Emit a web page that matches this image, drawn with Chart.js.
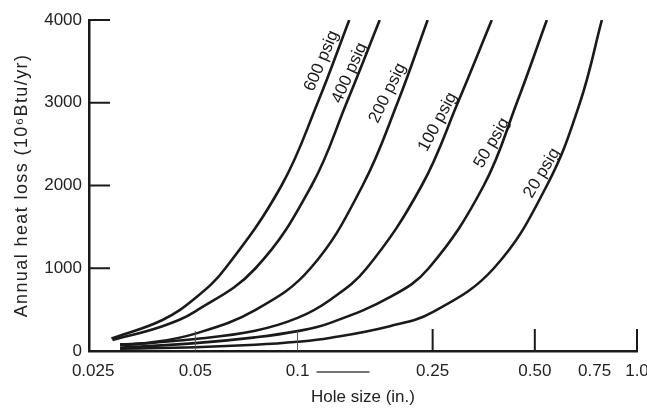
<!DOCTYPE html>
<html>
<head>
<meta charset="utf-8">
<script src="https://cdn.jsdelivr.net/npm/chart.js@4.4.1/dist/chart.umd.min.js"></script>
<style>
  html, body { margin: 0; padding: 0; background: #fff; }
  #wrap { width: 647px; height: 412px; }
</style>
</head>
<body>
<div id="wrap"><canvas id="heatChart" width="647" height="412"></canvas></div>
<script>
// curve names, top-left to bottom-right
const pressures = ['600 psig', '400 psig', '200 psig', '100 psig', '50 psig', '20 psig'];

// hole size (in.) / annual heat loss (10^6 Btu/yr)
const hole600 = [0.0283, 0.040, 0.050, 0.0613, 0.0897, 0.1146, 0.142];
const loss600 = [150, 375, 640, 1000, 2000, 3000, 4000];
const hole400 = [0.0285, 0.040, 0.050, 0.0752, 0.110, 0.1395, 0.1746];
const loss400 = [133, 300, 480, 1000, 2000, 3000, 4000];
const hole200 = [0.030, 0.0366, 0.050, 0.075, 0.1092, 0.1555, 0.197, 0.2417];
const loss200 = [80, 100, 210, 495, 1000, 2000, 3000, 4000];
const hole100 = [0.030, 0.050, 0.075, 0.100, 0.1243, 0.1598, 0.2322, 0.2965, 0.3734];
const loss100 = [70, 145, 245, 400, 614, 1000, 2000, 3000, 4000];
const hole50 = [0.030, 0.050, 0.075, 0.100, 0.1243, 0.187, 0.2434, 0.3537, 0.4426, 0.5425];
const loss50 = [40, 95, 165, 240, 337, 650, 1000, 2000, 3000, 4000];
const hole20 = [0.030, 0.050, 0.075, 0.100, 0.1243, 0.187, 0.250, 0.3787, 0.5425, 0.679, 0.788];
const loss20 = [28, 46, 75, 111, 157, 300, 470, 1000, 2000, 3000, 4000];

const holes = [hole600, hole400, hole200, hole100, hole50, hole20];
const losses = [loss600, loss400, loss200, loss100, loss50, loss20];

// axis ticks
const xTickValues = [0.025, 0.05, 0.1, 0.25, 0.5, 0.75, 1.0];
const xTickLabels = ['0.025', '0.05', '0.1', '0.25', '0.50', '0.75', '1.0'];
const xMajorMarks = [0.25, 0.5, 1.0];
const xMinorMarks = [0.05, 0.1];
const yTickValues = [0, 1000, 2000, 3000, 4000];
const yTitle = 'Annual heat loss (10⁶Btu/yr)';

// where the curve names sit (data units) and their tilt in degrees
const labelHole = [0.1177, 0.1423, 0.1843, 0.2588, 0.3734, 0.5245];
const labelLoss = [3505, 3360, 3118, 2767, 2514, 2151];
const labelAngle = [-67, -66, -64, -62, -60, -59];

const ink = '#1a1a1a';
const textInk = '#222';
const FONT = '"Liberation Sans", Arial, sans-serif';

const datasets = pressures.map((name, i) => ({
    label: name,
    data: holes[i].map((h, j) => ({ x: h, y: losses[i][j] })),
    borderColor: ink,
    borderWidth: 2.6,
    pointRadius: 0,
    fill: false,
    tension: 0.4
}));

// tick marks drawn inside the frame, curve names and the y title
const innerMarks = {
    id: 'innerMarks',
    afterDraw(chart) {
        const { ctx, scales: { x, y } } = chart;
        ctx.save();
        ctx.strokeStyle = ink;
        ctx.lineWidth = 2;
        yTickValues.forEach(v => {
            if (v === 0) return;
            const py = y.getPixelForValue(v);
            ctx.beginPath();
            ctx.moveTo(x.left, py);
            ctx.lineTo(x.left + 21, py);
            ctx.stroke();
        });
        xMajorMarks.forEach(v => {
            const px = x.getPixelForValue(v);
            ctx.beginPath();
            ctx.moveTo(px, y.bottom);
            ctx.lineTo(px, y.bottom - 22);
            ctx.stroke();
        });
        ctx.lineWidth = 1;
        ctx.strokeStyle = '#555';
        xMinorMarks.forEach(v => {
            const px = x.getPixelForValue(v);
            ctx.beginPath();
            ctx.moveTo(px, y.bottom);
            ctx.lineTo(px, y.bottom - 20);
            ctx.stroke();
        });
        // stray rule after the 0.1 label in the scan
        const p01 = x.getPixelForValue(0.1);
        ctx.strokeStyle = '#444';
        ctx.lineWidth = 1.5;
        ctx.beginPath();
        ctx.moveTo(p01 + 19, y.bottom + 21);
        ctx.lineTo(p01 + 72, y.bottom + 21);
        ctx.stroke();

        ctx.fillStyle = ink;
        ctx.font = '17px ' + FONT;
        ctx.textAlign = 'center';
        ctx.textBaseline = 'middle';
        pressures.forEach((name, i) => {
            const px = x.getPixelForValue(labelHole[i]);
            const py = y.getPixelForValue(labelLoss[i]);
            ctx.save();
            ctx.translate(px, py);
            ctx.rotate(labelAngle[i] * Math.PI / 180);
            ctx.fillText(name, 0, 0);
            ctx.restore();
        });

        // y title, letter-spaced like the scan
        ctx.save();
        ctx.fillStyle = textInk;
        ctx.font = '18px ' + FONT;
        if ('letterSpacing' in ctx) ctx.letterSpacing = '1.4px';
        ctx.translate(22, (y.top + y.bottom) / 2);
        ctx.rotate(-Math.PI / 2);
        ctx.fillText(yTitle, 0, 0);
        ctx.restore();
        ctx.restore();
    }
};

new Chart(document.getElementById('heatChart'), {
    type: 'line',
    data: { datasets },
    options: {
        responsive: false,
        devicePixelRatio: 1,
        animation: false,
        layout: { padding: { top: 20, right: 10, left: 0, bottom: 0 } },
        plugins: {
            legend: { display: false },
            tooltip: { enabled: false }
        },
        scales: {
            x: {
                type: 'logarithmic',
                min: 0.0243,
                max: 1.0,
                grid: { display: false, drawTicks: false },
                border: { display: true, color: ink, width: 2.5 },
                afterBuildTicks: scale => { scale.ticks = xTickValues.map(v => ({ value: v })); },
                afterFit: scale => { scale.height = 61; scale.paddingLeft = 0; scale.paddingRight = 0; },
                ticks: {
                    autoSkip: false,
                    maxRotation: 0,
                    padding: 10,
                    color: textInk,
                    font: { family: FONT, size: 17 },
                    callback: (value, index) => xTickLabels[index]
                },
                title: {
                    display: true,
                    text: 'Hole size (in.)',
                    color: textInk,
                    font: { family: FONT, size: 17 },
                    padding: { top: 0, bottom: 4 }
                }
            },
            y: {
                min: 0,
                max: 4000,
                grid: { display: false, drawTicks: false },
                border: { display: true, color: ink, width: 2.5 },
                afterBuildTicks: scale => { scale.ticks = yTickValues.map(v => ({ value: v })); },
                afterFit: scale => { scale.width = 89; },
                ticks: {
                    padding: 7,
                    color: textInk,
                    font: { family: FONT, size: 17 },
                    callback: value => String(value)
                },
                title: { display: false }
            }
        }
    },
    plugins: [innerMarks]
});
</script>
</body>
</html>
